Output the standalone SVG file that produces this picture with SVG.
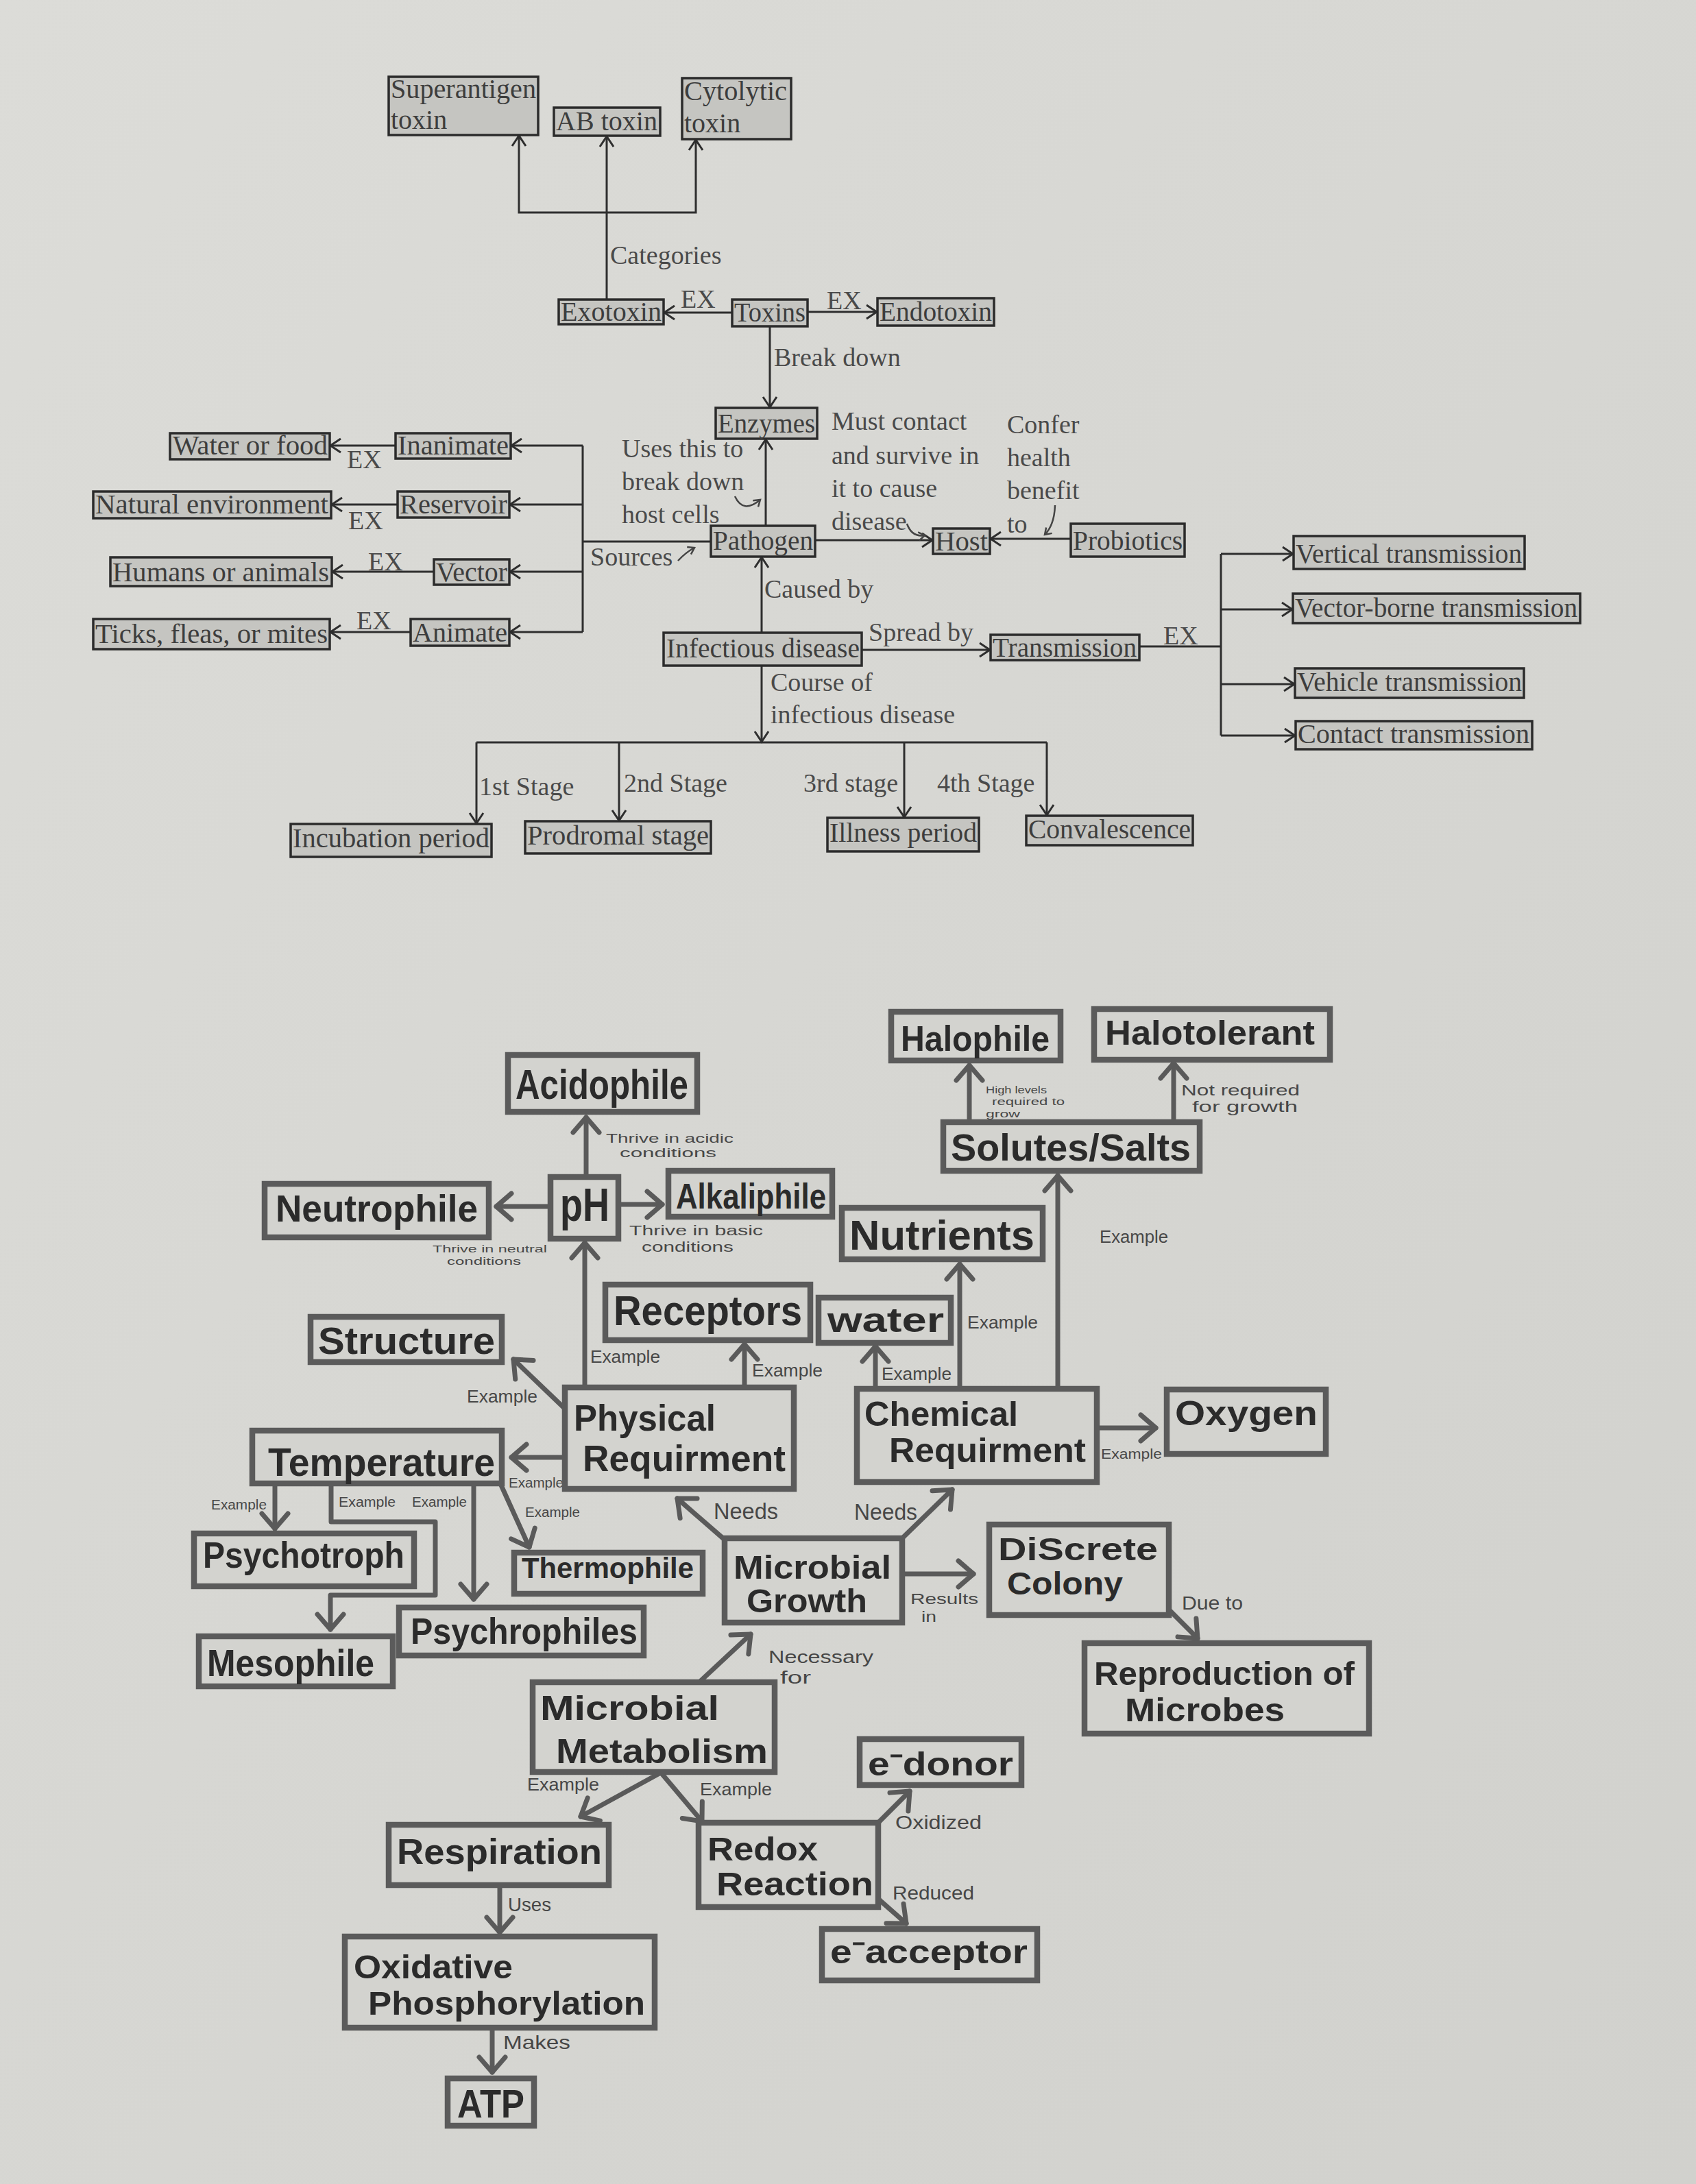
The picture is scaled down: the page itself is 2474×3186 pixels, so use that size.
<svg xmlns="http://www.w3.org/2000/svg" width="2474" height="3186" viewBox="0 0 2474 3186">
<defs>
<linearGradient id="bg" x1="0" y1="0" x2="1" y2="1">
<stop offset="0" stop-color="#dcdcd8"/>
<stop offset="1" stop-color="#d1d1cd"/>
</linearGradient>
<marker id="at" markerUnits="userSpaceOnUse" markerWidth="24" markerHeight="24" viewBox="-18 -12 24 24" refX="0" refY="0" orient="auto">
<path d="M-15,-10 L0,0 L-15,10" fill="none" stroke="#2e2e2e" stroke-width="3"/>
</marker>
<marker id="as" markerUnits="userSpaceOnUse" markerWidth="16" markerHeight="16" viewBox="-12 -8 16 16" refX="0" refY="0" orient="auto">
<path d="M-9,-6 L0,0 L-9,6" fill="none" stroke="#444" stroke-width="2.5"/>
</marker>
<marker id="ab" markerUnits="userSpaceOnUse" markerWidth="40" markerHeight="52" viewBox="-30 -26 36 52" refX="0" refY="0" orient="auto">
<path d="M-22,-19 L0,0 L-22,19" fill="none" stroke="#5a5a5a" stroke-width="7" stroke-linecap="round" stroke-linejoin="round"/>
</marker>
<style>
.tb{fill:#c5c5c1;stroke:#2b2b2b;stroke-width:3.5}
.tt{font-family:"Liberation Serif","Times New Roman",serif;font-size:40px;fill:#3d3d3d}
.tl{font-family:"Liberation Serif","Times New Roman",serif;font-size:38px;fill:#4a4a4a}
.te{fill:none;stroke:#2e2e2e;stroke-width:3}
.bb{fill:#d3d3cf;stroke:#5b5b5b;stroke-width:8.5}
.bt{font-family:"Liberation Sans",Arial,sans-serif;font-weight:bold;fill:#2b2b2b}
.bl{font-family:"Liberation Sans",Arial,sans-serif;fill:#474747}
.be{fill:none;stroke:#5a5a5a;stroke-width:7;stroke-linecap:round;stroke-linejoin:round}
</style>
</defs>
<rect x="0" y="0" width="2474" height="3186" fill="url(#bg)"/>

<!-- ================= CONNECTORS ================= -->
<g id="connectors">
<!-- top section -->
<path class="te" d="M885,437 L885,199" marker-end="url(#at)"/>
<path class="te" d="M885,310 L757,310 L757,198" marker-end="url(#at)"/>
<path class="te" d="M885,310 L1015,310 L1015,204" marker-end="url(#at)"/>
<path class="te" d="M1068,456 L969,456" marker-end="url(#at)"/>
<path class="te" d="M1178,455 L1279,455" marker-end="url(#at)"/>
<path class="te" d="M1123,476 L1123,594" marker-end="url(#at)"/>
<path class="te" d="M1117,767 L1117,641" marker-end="url(#at)"/>
<path class="te" d="M1189,788 L1360,788" marker-end="url(#at)"/>
<path class="te" d="M1562,786 L1445,786" marker-end="url(#at)"/>
<path class="te" d="M1111,923 L1111,813" marker-end="url(#at)"/>
<path class="te" d="M1257,948 L1444,948" marker-end="url(#at)"/>
<path class="te" d="M1662,943 L1781,943 M1781,808 L1781,1073"/>
<path class="te" d="M1781,808 L1886,808" marker-end="url(#at)"/>
<path class="te" d="M1781,889 L1885,889" marker-end="url(#at)"/>
<path class="te" d="M1781,998 L1888,998" marker-end="url(#at)"/>
<path class="te" d="M1781,1073 L1889,1073" marker-end="url(#at)"/>
<path class="te" d="M1111,971 L1111,1082" marker-end="url(#at)"/>
<path class="te" d="M695,1083 L1527,1083"/>
<path class="te" d="M695,1083 L695,1201" marker-end="url(#at)"/>
<path class="te" d="M903,1083 L903,1197" marker-end="url(#at)"/>
<path class="te" d="M1319,1083 L1319,1192" marker-end="url(#at)"/>
<path class="te" d="M1527,1083 L1527,1189" marker-end="url(#at)"/>
<path class="te" d="M1037,790 L850,790 M850,650 L850,922"/>
<path class="te" d="M850,650 L746,650" marker-end="url(#at)"/>
<path class="te" d="M850,736 L744,736" marker-end="url(#at)"/>
<path class="te" d="M850,834 L744,834" marker-end="url(#at)"/>
<path class="te" d="M850,922 L744,922" marker-end="url(#at)"/>
<path class="te" d="M577,650 L482,650" marker-end="url(#at)"/>
<path class="te" d="M580,736 L484,736" marker-end="url(#at)"/>
<path class="te" d="M633,834 L485,834" marker-end="url(#at)"/>
<path class="te" d="M599,922 L482,922" marker-end="url(#at)"/>
<!-- small curved pointer arrows -->
<path fill="none" stroke="#444" stroke-width="2.5" d="M1072,724 Q1084,750 1109,729" marker-end="url(#as)"/>
<path fill="none" stroke="#444" stroke-width="2.5" d="M989,818 Q1000,806 1013,799" marker-end="url(#as)"/>
<path fill="none" stroke="#444" stroke-width="2.5" d="M1323,764 Q1330,784 1349,781" marker-end="url(#as)"/>
<path fill="none" stroke="#444" stroke-width="2.5" d="M1539,737 Q1538,766 1524,780" marker-end="url(#as)"/>

<!-- bottom section -->
<path class="be" d="M855,1717 L855,1630" marker-end="url(#ab)"/>
<path class="be" d="M803,1760 L724,1760" marker-end="url(#ab)"/>
<path class="be" d="M902,1757 L966,1757" marker-end="url(#ab)"/>
<path class="be" d="M853,2024 L853,1813" marker-end="url(#ab)"/>
<path class="be" d="M1086,2024 L1086,1961" marker-end="url(#ab)"/>
<path class="be" d="M824,2055 L749,1983" marker-end="url(#ab)"/>
<path class="be" d="M824,2126 L746,2126" marker-end="url(#ab)"/>
<path class="be" d="M401,2164 L401,2230" marker-end="url(#ab)"/>
<path class="be" d="M483,2164 L483,2220 L635,2220 L635,2327 L482,2327 L482,2377" marker-end="url(#ab)"/>
<path class="be" d="M691,2164 L691,2333" marker-end="url(#ab)"/>
<path class="be" d="M728,2160 L772,2257" marker-end="url(#ab)"/>
<path class="be" d="M1277,2026 L1277,1964" marker-end="url(#ab)"/>
<path class="be" d="M1400,2026 L1400,1844" marker-end="url(#ab)"/>
<path class="be" d="M1543,2026 L1543,1715" marker-end="url(#ab)"/>
<path class="be" d="M1414,1637 L1414,1554" marker-end="url(#ab)"/>
<path class="be" d="M1712,1637 L1712,1551" marker-end="url(#ab)"/>
<path class="be" d="M1600,2083 L1686,2083" marker-end="url(#ab)"/>
<path class="be" d="M1057,2246 L988,2186" marker-end="url(#ab)"/>
<path class="be" d="M1316,2244 L1389,2173" marker-end="url(#ab)"/>
<path class="be" d="M1316,2296 L1420,2296" marker-end="url(#ab)"/>
<path class="be" d="M1705,2348 L1747,2390" marker-end="url(#ab)"/>
<path class="be" d="M1022,2452 L1095,2384" marker-end="url(#ab)"/>
<path class="be" d="M962,2587 L847,2650" marker-end="url(#ab)"/>
<path class="be" d="M965,2587 L1024,2657" marker-end="url(#ab)"/>
<path class="be" d="M1281,2659 L1327,2613" marker-end="url(#ab)"/>
<path class="be" d="M1281,2770 L1322,2806" marker-end="url(#ab)"/>
<path class="be" d="M729,2750 L729,2819" marker-end="url(#ab)"/>
<path class="be" d="M718,2958 L718,3023" marker-end="url(#ab)"/>
</g>

<!-- ================= EDGE LABELS ================= -->
<g id="labels-top">
<text class="tl" x="890" y="385">Categories</text>
<text class="tl" x="993" y="449">EX</text>
<text class="tl" x="1206" y="451">EX</text>
<text class="tl" x="1129" y="534">Break down</text>
<text class="tl" x="907" y="667">Uses this to</text>
<text class="tl" x="907" y="715">break down</text>
<text class="tl" x="907" y="763">host cells</text>
<text class="tl" x="1213" y="627">Must contact</text>
<text class="tl" x="1213" y="677">and survive in</text>
<text class="tl" x="1213" y="725">it to cause</text>
<text class="tl" x="1213" y="773">disease</text>
<text class="tl" x="1469" y="632">Confer</text>
<text class="tl" x="1469" y="680">health</text>
<text class="tl" x="1469" y="728">benefit</text>
<text class="tl" x="1469" y="777">to</text>
<text class="tl" x="861" y="825">Sources</text>
<text class="tl" x="1115" y="872">Caused by</text>
<text class="tl" x="1267" y="935">Spread by</text>
<text class="tl" x="1697" y="940">EX</text>
<text class="tl" x="1124" y="1008">Course of</text>
<text class="tl" x="1124" y="1055">infectious disease</text>
<text class="tl" x="699" y="1160">1st Stage</text>
<text class="tl" x="910" y="1155">2nd Stage</text>
<text class="tl" x="1172" y="1155">3rd stage</text>
<text class="tl" x="1367" y="1155">4th Stage</text>
<text class="tl" x="506" y="683">EX</text>
<text class="tl" x="508" y="772">EX</text>
<text class="tl" x="537" y="832">EX</text>
<text class="tl" x="520" y="918">EX</text>
</g>

<g id="labels-bottom">
<text class="bl" x="884" y="1667" font-size="19" textLength="186" lengthAdjust="spacingAndGlyphs">Thrive in acidic</text>
<text class="bl" x="904" y="1688" font-size="19" textLength="141" lengthAdjust="spacingAndGlyphs">conditions</text>
<text class="bl" x="918" y="1802" font-size="21" textLength="195" lengthAdjust="spacingAndGlyphs">Thrive in basic</text>
<text class="bl" x="936" y="1826" font-size="21" textLength="134" lengthAdjust="spacingAndGlyphs">conditions</text>
<text class="bl" x="631" y="1827" font-size="15" textLength="167" lengthAdjust="spacingAndGlyphs">Thrive in neutral</text>
<text class="bl" x="652" y="1845" font-size="15" textLength="108" lengthAdjust="spacingAndGlyphs">conditions</text>
<text class="bl" x="1438" y="1595" font-size="14" textLength="89" lengthAdjust="spacingAndGlyphs">High levels</text>
<text class="bl" x="1447" y="1612" font-size="14" textLength="106" lengthAdjust="spacingAndGlyphs">required to</text>
<text class="bl" x="1438" y="1630" font-size="14" textLength="50" lengthAdjust="spacingAndGlyphs">grow</text>
<text class="bl" x="1723" y="1598" font-size="22" textLength="173" lengthAdjust="spacingAndGlyphs">Not required</text>
<text class="bl" x="1739" y="1622" font-size="22" textLength="154" lengthAdjust="spacingAndGlyphs">for growth</text>
<text class="bl" x="1604" y="1813" font-size="26" textLength="100" lengthAdjust="spacingAndGlyphs">Example</text>
<text class="bl" x="1411" y="1938" font-size="26" textLength="103" lengthAdjust="spacingAndGlyphs">Example</text>
<text class="bl" x="1286" y="2013" font-size="26" textLength="102" lengthAdjust="spacingAndGlyphs">Example</text>
<text class="bl" x="1097" y="2008" font-size="26" textLength="103" lengthAdjust="spacingAndGlyphs">Example</text>
<text class="bl" x="861" y="1988" font-size="26" textLength="102" lengthAdjust="spacingAndGlyphs">Example</text>
<text class="bl" x="681" y="2046" font-size="26" textLength="103" lengthAdjust="spacingAndGlyphs">Example</text>
<text class="bl" x="742" y="2170" font-size="20" textLength="80" lengthAdjust="spacingAndGlyphs">Example</text>
<text class="bl" x="308" y="2202" font-size="20" textLength="81" lengthAdjust="spacingAndGlyphs">Example</text>
<text class="bl" x="494" y="2198" font-size="20" textLength="83" lengthAdjust="spacingAndGlyphs">Example</text>
<text class="bl" x="601" y="2198" font-size="20" textLength="80" lengthAdjust="spacingAndGlyphs">Example</text>
<text class="bl" x="766" y="2213" font-size="20" textLength="80" lengthAdjust="spacingAndGlyphs">Example</text>
<text class="bl" x="1041" y="2216" font-size="34" textLength="94" lengthAdjust="spacingAndGlyphs">Needs</text>
<text class="bl" x="1246" y="2217" font-size="34" textLength="92" lengthAdjust="spacingAndGlyphs">Needs</text>
<text class="bl" x="1606" y="2128" font-size="21" textLength="89" lengthAdjust="spacingAndGlyphs">Example</text>
<text class="bl" x="1328" y="2340" font-size="22" textLength="99" lengthAdjust="spacingAndGlyphs">Results</text>
<text class="bl" x="1344" y="2366" font-size="22" textLength="22" lengthAdjust="spacingAndGlyphs">in</text>
<text class="bl" x="1724" y="2348" font-size="28" textLength="89" lengthAdjust="spacingAndGlyphs">Due to</text>
<text class="bl" x="1121" y="2426" font-size="26" textLength="153" lengthAdjust="spacingAndGlyphs">Necessary</text>
<text class="bl" x="1138" y="2456" font-size="26" textLength="45" lengthAdjust="spacingAndGlyphs">for</text>
<text class="bl" x="769" y="2612" font-size="25" textLength="105" lengthAdjust="spacingAndGlyphs">Example</text>
<text class="bl" x="1021" y="2619" font-size="25" textLength="105" lengthAdjust="spacingAndGlyphs">Example</text>
<text class="bl" x="1306" y="2668" font-size="28" textLength="126" lengthAdjust="spacingAndGlyphs">Oxidized</text>
<text class="bl" x="1302" y="2771" font-size="28" textLength="119" lengthAdjust="spacingAndGlyphs">Reduced</text>
<text class="bl" x="741" y="2788" font-size="28" textLength="63" lengthAdjust="spacingAndGlyphs">Uses</text>
<text class="bl" x="734" y="2989" font-size="28" textLength="98" lengthAdjust="spacingAndGlyphs">Makes</text>
</g>

<!-- ================= TOP NODES ================= -->
<g id="n-superantigen"><rect class="tb" x="567" y="112" width="218" height="85"/><text class="tt" x="570" y="143" textLength="212" lengthAdjust="spacingAndGlyphs">Superantigen</text><text class="tt" x="570" y="188">toxin</text></g>
<g id="n-abtoxin"><rect class="tb" x="808" y="157" width="155" height="41"/><text class="tt" x="811" y="190" textLength="148" lengthAdjust="spacingAndGlyphs">AB toxin</text></g>
<g id="n-cytolytic"><rect class="tb" x="995" y="114" width="159" height="89"/><text class="tt" x="998" y="146" textLength="150" lengthAdjust="spacingAndGlyphs">Cytolytic</text><text class="tt" x="998" y="193">toxin</text></g>
<g id="n-exotoxin"><rect class="tb" x="815" y="437" width="153" height="36"/><text class="tt" x="818" y="468" textLength="147" lengthAdjust="spacingAndGlyphs">Exotoxin</text></g>
<g id="n-toxins"><rect class="tb" x="1068" y="437" width="110" height="39"/><text class="tt" x="1071" y="469" textLength="104" lengthAdjust="spacingAndGlyphs">Toxins</text></g>
<g id="n-endotoxin"><rect class="tb" x="1280" y="435" width="170" height="40"/><text class="tt" x="1283" y="468" textLength="164" lengthAdjust="spacingAndGlyphs">Endotoxin</text></g>
<g id="n-enzymes"><rect class="tb" x="1044" y="595" width="148" height="45"/><text class="tt" x="1047" y="631" textLength="142" lengthAdjust="spacingAndGlyphs">Enzymes</text></g>
<g id="n-pathogen"><rect class="tb" x="1037" y="767" width="152" height="45"/><text class="tt" x="1040" y="802" textLength="146" lengthAdjust="spacingAndGlyphs">Pathogen</text></g>
<g id="n-host"><rect class="tb" x="1361" y="771" width="83" height="37"/><text class="tt" x="1364" y="803" textLength="77" lengthAdjust="spacingAndGlyphs">Host</text></g>
<g id="n-probiotics"><rect class="tb" x="1562" y="764" width="166" height="48"/><text class="tt" x="1565" y="802" textLength="160" lengthAdjust="spacingAndGlyphs">Probiotics</text></g>
<g id="n-infectious"><rect class="tb" x="968" y="923" width="289" height="48"/><text class="tt" x="972" y="959" textLength="282" lengthAdjust="spacingAndGlyphs">Infectious disease</text></g>
<g id="n-transmission"><rect class="tb" x="1445" y="926" width="217" height="37"/><text class="tt" x="1448" y="958" textLength="210" lengthAdjust="spacingAndGlyphs">Transmission</text></g>
<g id="n-waterfood"><rect class="tb" x="248" y="632" width="233" height="38"/><text class="tt" x="252" y="663" textLength="226" lengthAdjust="spacingAndGlyphs">Water or food</text></g>
<g id="n-inanimate"><rect class="tb" x="577" y="632" width="168" height="37"/><text class="tt" x="580" y="663" textLength="162" lengthAdjust="spacingAndGlyphs">Inanimate</text></g>
<g id="n-natural"><rect class="tb" x="136" y="717" width="347" height="39"/><text class="tt" x="139" y="749" textLength="340" lengthAdjust="spacingAndGlyphs">Natural environment</text></g>
<g id="n-reservoir"><rect class="tb" x="580" y="717" width="163" height="38"/><text class="tt" x="583" y="749" textLength="157" lengthAdjust="spacingAndGlyphs">Reservoir</text></g>
<g id="n-humans"><rect class="tb" x="161" y="813" width="323" height="42"/><text class="tt" x="164" y="848" textLength="316" lengthAdjust="spacingAndGlyphs">Humans or animals</text></g>
<g id="n-vector"><rect class="tb" x="633" y="816" width="110" height="37"/><text class="tt" x="636" y="848" textLength="104" lengthAdjust="spacingAndGlyphs">Vector</text></g>
<g id="n-ticks"><rect class="tb" x="136" y="903" width="345" height="44"/><text class="tt" x="139" y="938" textLength="339" lengthAdjust="spacingAndGlyphs">Ticks, fleas, or mites</text></g>
<g id="n-animate"><rect class="tb" x="599" y="903" width="144" height="39"/><text class="tt" x="602" y="936" textLength="138" lengthAdjust="spacingAndGlyphs">Animate</text></g>
<g id="n-vertical"><rect class="tb" x="1887" y="782" width="337" height="48"/><text class="tt" x="1890" y="821" textLength="330" lengthAdjust="spacingAndGlyphs">Vertical transmission</text></g>
<g id="n-vectorborne"><rect class="tb" x="1886" y="866" width="419" height="43"/><text class="tt" x="1889" y="900" textLength="412" lengthAdjust="spacingAndGlyphs">Vector-borne transmission</text></g>
<g id="n-vehicle"><rect class="tb" x="1889" y="975" width="334" height="43"/><text class="tt" x="1892" y="1008" textLength="328" lengthAdjust="spacingAndGlyphs">Vehicle transmission</text></g>
<g id="n-contact"><rect class="tb" x="1890" y="1052" width="345" height="41"/><text class="tt" x="1893" y="1084" textLength="338" lengthAdjust="spacingAndGlyphs">Contact transmission</text></g>
<g id="n-incubation"><rect class="tb" x="424" y="1202" width="293" height="48"/><text class="tt" x="427" y="1236" textLength="287" lengthAdjust="spacingAndGlyphs">Incubation period</text></g>
<g id="n-prodromal"><rect class="tb" x="766" y="1198" width="271" height="47"/><text class="tt" x="769" y="1232" textLength="265" lengthAdjust="spacingAndGlyphs">Prodromal stage</text></g>
<g id="n-illness"><rect class="tb" x="1207" y="1193" width="221" height="49"/><text class="tt" x="1210" y="1228" textLength="215" lengthAdjust="spacingAndGlyphs">Illness period</text></g>
<g id="n-convalescence"><rect class="tb" x="1497" y="1190" width="243" height="43"/><text class="tt" x="1500" y="1223" textLength="237" lengthAdjust="spacingAndGlyphs">Convalescence</text></g>

<!-- ================= BOTTOM NODES ================= -->
<g id="n-acidophile"><rect class="bb" x="741" y="1539" width="276" height="83"/><text class="bt" x="752" y="1603" font-size="62" textLength="252" lengthAdjust="spacingAndGlyphs">Acidophile</text></g>
<g id="n-neutrophile"><rect class="bb" x="386" y="1727" width="327" height="78"/><text class="bt" x="402" y="1782" font-size="56" textLength="295" lengthAdjust="spacingAndGlyphs">Neutrophile</text></g>
<g id="n-ph"><rect class="bb" x="803" y="1717" width="99" height="90"/><text class="bt" x="817" y="1781" font-size="68" textLength="72" lengthAdjust="spacingAndGlyphs">pH</text></g>
<g id="n-alkaliphile"><rect class="bb" x="975" y="1708" width="239" height="67"/><text class="bt" x="986" y="1763" font-size="52" textLength="219" lengthAdjust="spacingAndGlyphs">Alkaliphile</text></g>
<g id="n-halophile"><rect class="bb" x="1300" y="1476" width="247" height="71"/><text class="bt" x="1314" y="1533" font-size="52" textLength="217" lengthAdjust="spacingAndGlyphs">Halophile</text></g>
<g id="n-halotolerant"><rect class="bb" x="1596" y="1472" width="344" height="74"/><text class="bt" x="1612" y="1524" font-size="50" textLength="306" lengthAdjust="spacingAndGlyphs">Halotolerant</text></g>
<g id="n-solutes"><rect class="bb" x="1376" y="1637" width="374" height="71"/><text class="bt" x="1387" y="1693" font-size="56" textLength="350" lengthAdjust="spacingAndGlyphs">Solutes/Salts</text></g>
<g id="n-nutrients"><rect class="bb" x="1228" y="1762" width="293" height="75"/><text class="bt" x="1239" y="1823" font-size="62" textLength="270" lengthAdjust="spacingAndGlyphs">Nutrients</text></g>
<g id="n-receptors"><rect class="bb" x="883" y="1874" width="299" height="81"/><text class="bt" x="895" y="1933" font-size="62" textLength="275" lengthAdjust="spacingAndGlyphs">Receptors</text></g>
<g id="n-water"><rect class="bb" x="1194" y="1893" width="193" height="66"/><text class="bt" x="1207" y="1943" font-size="50" textLength="170" lengthAdjust="spacingAndGlyphs">water</text></g>
<g id="n-structure"><rect class="bb" x="453" y="1921" width="279" height="66"/><text class="bt" x="464" y="1975" font-size="56" textLength="258" lengthAdjust="spacingAndGlyphs">Structure</text></g>
<g id="n-physical"><rect class="bb" x="824" y="2024" width="334" height="148"/><text class="bt" x="837" y="2087" font-size="54" textLength="207" lengthAdjust="spacingAndGlyphs">Physical</text><text class="bt" x="850" y="2146" font-size="54" textLength="296" lengthAdjust="spacingAndGlyphs">Requirment</text></g>
<g id="n-temperature"><rect class="bb" x="368" y="2087" width="364" height="77"/><text class="bt" x="391" y="2153" font-size="58" textLength="331" lengthAdjust="spacingAndGlyphs">Temperature</text></g>
<g id="n-psychotroph"><rect class="bb" x="283" y="2237" width="321" height="77"/><text class="bt" x="296" y="2287" font-size="54" textLength="294" lengthAdjust="spacingAndGlyphs">Psychotroph</text></g>
<g id="n-mesophile"><rect class="bb" x="290" y="2387" width="283" height="73"/><text class="bt" x="302" y="2445" font-size="56" textLength="244" lengthAdjust="spacingAndGlyphs">Mesophile</text></g>
<g id="n-psychrophiles"><rect class="bb" x="582" y="2345" width="357" height="70"/><text class="bt" x="599" y="2398" font-size="54" textLength="331" lengthAdjust="spacingAndGlyphs">Psychrophiles</text></g>
<g id="n-thermophile"><rect class="bb" x="750" y="2265" width="275" height="60"/><text class="bt" x="761" y="2302" font-size="42" textLength="251" lengthAdjust="spacingAndGlyphs">Thermophile</text></g>
<g id="n-growth"><rect class="bb" x="1057" y="2244" width="259" height="123"/><text class="bt" x="1070" y="2303" font-size="48" textLength="230" lengthAdjust="spacingAndGlyphs">Microbial</text><text class="bt" x="1089" y="2352" font-size="48" textLength="176" lengthAdjust="spacingAndGlyphs">Growth</text></g>
<g id="n-chemical"><rect class="bb" x="1250" y="2026" width="350" height="136"/><text class="bt" x="1261" y="2080" font-size="50" textLength="224" lengthAdjust="spacingAndGlyphs">Chemical</text><text class="bt" x="1297" y="2133" font-size="50" textLength="287" lengthAdjust="spacingAndGlyphs">Requirment</text></g>
<g id="n-oxygen"><rect class="bb" x="1702" y="2027" width="232" height="94"/><text class="bt" x="1714" y="2079" font-size="50" textLength="208" lengthAdjust="spacingAndGlyphs">Oxygen</text></g>
<g id="n-discrete"><rect class="bb" x="1443" y="2224" width="262" height="132"/><text class="bt" x="1456" y="2276" font-size="46" textLength="233" lengthAdjust="spacingAndGlyphs">DiScrete</text><text class="bt" x="1469" y="2326" font-size="46" textLength="169" lengthAdjust="spacingAndGlyphs">Colony</text></g>
<g id="n-reproduction"><rect class="bb" x="1582" y="2397" width="415" height="132"/><text class="bt" x="1596" y="2458" font-size="48" textLength="380" lengthAdjust="spacingAndGlyphs">Reproduction of</text><text class="bt" x="1641" y="2511" font-size="48" textLength="233" lengthAdjust="spacingAndGlyphs">Microbes</text></g>
<g id="n-metabolism"><rect class="bb" x="777" y="2454" width="353" height="131"/><text class="bt" x="788" y="2509" font-size="50" textLength="261" lengthAdjust="spacingAndGlyphs">Microbial</text><text class="bt" x="811" y="2572" font-size="50" textLength="309" lengthAdjust="spacingAndGlyphs">Metabolism</text></g>
<g id="n-edonor"><rect class="bb" x="1254" y="2537" width="236" height="67"/><text class="bt" x="1266" y="2590" font-size="48" textLength="212" lengthAdjust="spacingAndGlyphs">e⁻donor</text></g>
<g id="n-eacceptor"><rect class="bb" x="1199" y="2814" width="314" height="75"/><text class="bt" x="1211" y="2864" font-size="48" textLength="288" lengthAdjust="spacingAndGlyphs">e⁻acceptor</text></g>
<g id="n-respiration"><rect class="bb" x="567" y="2662" width="321" height="88"/><text class="bt" x="579" y="2719" font-size="52" textLength="299" lengthAdjust="spacingAndGlyphs">Respiration</text></g>
<g id="n-redox"><rect class="bb" x="1019" y="2659" width="262" height="123"/><text class="bt" x="1032" y="2714" font-size="48" textLength="161" lengthAdjust="spacingAndGlyphs">Redox</text><text class="bt" x="1045" y="2765" font-size="48" textLength="229" lengthAdjust="spacingAndGlyphs">Reaction</text></g>
<g id="n-oxphos"><rect class="bb" x="503" y="2825" width="452" height="133"/><text class="bt" x="516" y="2886" font-size="48" textLength="232" lengthAdjust="spacingAndGlyphs">Oxidative</text><text class="bt" x="537" y="2939" font-size="48" textLength="404" lengthAdjust="spacingAndGlyphs">Phosphorylation</text></g>
<g id="n-atp"><rect class="bb" x="653" y="3032" width="126" height="69"/><text class="bt" x="667" y="3089" font-size="58" textLength="98" lengthAdjust="spacingAndGlyphs">ATP</text></g>
</svg>
